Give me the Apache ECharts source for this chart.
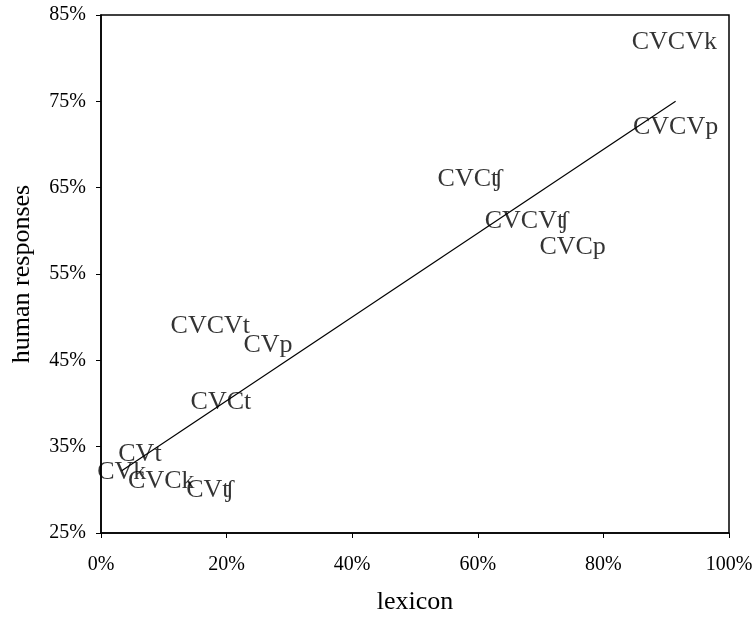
<!DOCTYPE html>
<html>
<head>
<meta charset="utf-8">
<script src="https://cdn.jsdelivr.net/npm/echarts@6/dist/echarts.min.js"></script>
<style>
html,body{margin:0;padding:0;background:#fff;}
#chart{width:756px;height:617px;}
</style>
</head>
<body>
<div id="chart"></div>
<script>
// Data (percent values)
var labels  = ['CVCVk','CVCVp','CVCʧ','CVCVʧ','CVCp','CVCVt','CVp','CVCt','CVt','CVk','CVCk','CVʧ'];
var lexicon = [91.3, 91.5, 58.8, 67.8, 75.1, 17.4, 26.6, 19.1, 6.2, 3.3, 9.6, 17.4];
var human   = [81.9, 72.0, 66.0, 61.1, 58.1, 49.0, 46.8, 40.1, 34.1, 32.1, 31.05, 30.0];
var xTicks = { min: 0, max: 100, interval: 20 };
var yTicks = { min: 25, max: 85, interval: 10 };

// Linear trendline (least squares) over the data's x range
var n = lexicon.length, sx = 0, sy = 0, sxx = 0, sxy = 0;
for (var i = 0; i < n; i++) { sx += lexicon[i]; sy += human[i]; sxx += lexicon[i]*lexicon[i]; sxy += lexicon[i]*human[i]; }
var slope = (n*sxy - sx*sy) / (n*sxx - sx*sx);
var icpt = (sy - slope*sx) / n;
var xmin = Math.min.apply(null, lexicon), xmax = Math.max.apply(null, lexicon);
var trend = [[xmin, icpt + slope*xmin], [xmax, icpt + slope*xmax]];

var pts = labels.map(function(l, i){ return { name: l, value: [lexicon[i], human[i]] }; });

var FONT = '"Liberation Serif", "DejaVu Serif", "Times New Roman", serif';
var chart = echarts.init(document.getElementById('chart'), null, {renderer:'canvas'});
chart.setOption({
  animation: false,
  backgroundColor: '#fff',
  grid: { left: 101, top: 15, width: 628, height: 518, containLabel: false, outerBoundsMode: 'none',
          show: true, borderColor: '#000', borderWidth: 1.5, backgroundColor: 'transparent' },
  xAxis: {
    type: 'value', min: xTicks.min, max: xTicks.max, interval: xTicks.interval,
    name: 'lexicon', nameLocation: 'middle', nameGap: 56,
    nameTextStyle: { fontFamily: FONT, fontSize: 26, color: '#000' },
    axisLine: { show: true, lineStyle: { color: '#000', width: 1.5 } },
    axisTick: { show: true, inside: false, length: 5, lineStyle: { color: '#000', width: 1 } },
    axisLabel: { formatter: '{value}%', fontFamily: FONT, fontSize: 20, color: '#000', margin: 22 },
    splitLine: { show: false }
  },
  yAxis: {
    type: 'value', min: yTicks.min, max: yTicks.max, interval: yTicks.interval,
    name: 'human responses', nameLocation: 'middle', nameGap: 66,
    nameTextStyle: { fontFamily: FONT, fontSize: 26, color: '#000' },
    axisLine: { show: true, lineStyle: { color: '#000', width: 1.5 } },
    axisTick: { show: true, inside: false, length: 5, lineStyle: { color: '#000', width: 1 } },
    axisLabel: { formatter: '{value}%', fontFamily: FONT, fontSize: 20, color: '#000', margin: 15 },
    splitLine: { show: false }
  },
  series: [
    {
      type: 'line', data: trend, symbol: 'none', silent: true,
      lineStyle: { color: '#000', width: 1.2 }, z: 2
    },
    {
      type: 'scatter', data: pts, symbolSize: 1, itemStyle: { color: 'rgba(0,0,0,0)' },
      label: { show: true, position: 'inside', formatter: '{b}', fontFamily: FONT, fontSize: 26, color: '#000', textBorderWidth: 0 },
      labelLayout: { hideOverlap: false }, z: 3
    }
  ]
});
</script>
</body>
</html>
